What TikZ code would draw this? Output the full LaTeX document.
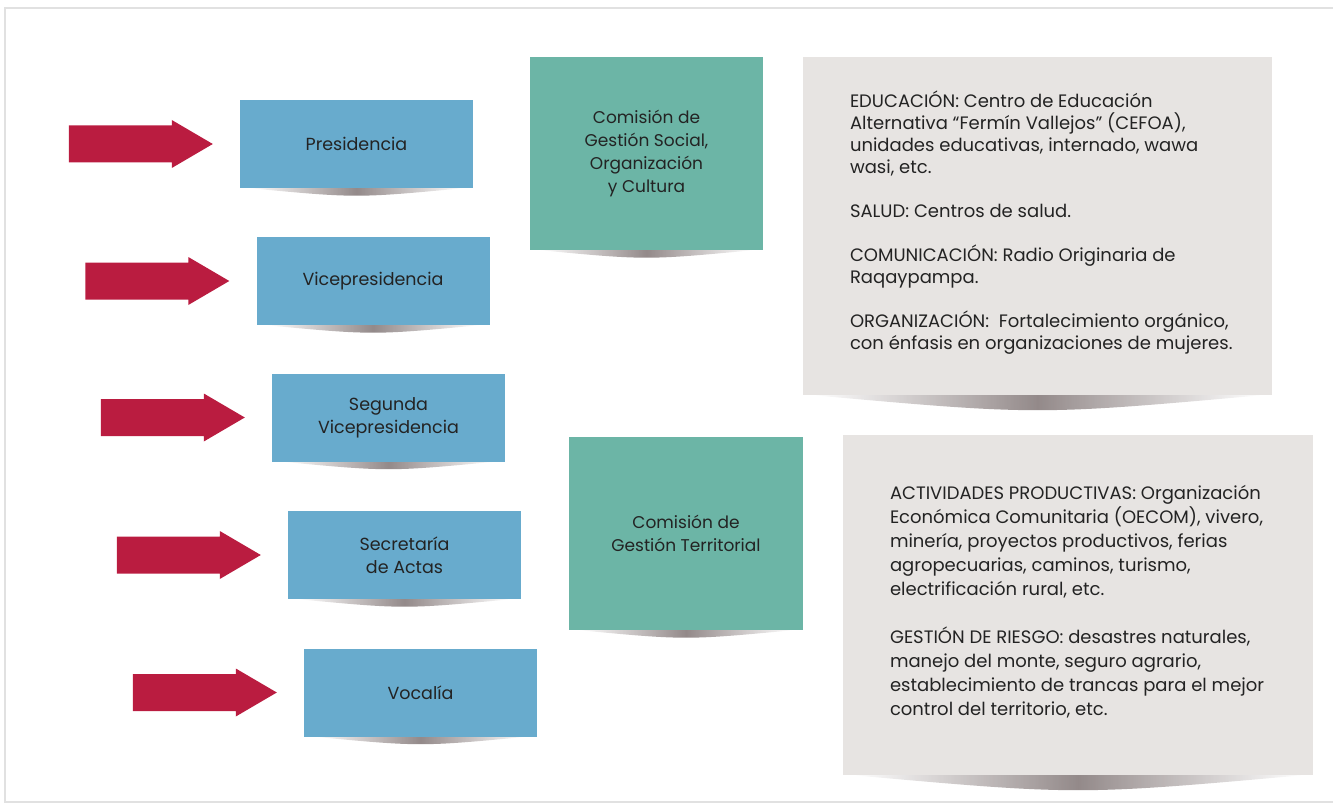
\documentclass[tikz,border=0pt]{standalone}
\usepackage{fontspec}
\setmainfont{Poppins}
\usetikzlibrary{calc,backgrounds}
\definecolor{boxblue}{RGB}{104,171,205}
\definecolor{boxteal}{RGB}{108,181,166}
\definecolor{boxgray}{RGB}{231,228,226}
\definecolor{arrowred}{RGB}{186,28,64}
\definecolor{txt}{RGB}{35,35,35}
\definecolor{shadowc}{RGB}{120,108,108}
\definecolor{framec}{RGB}{225,225,225}
\newcommand\dropshadow[2]{%
  \shade[left color=white, right color=white, middle color=shadowc, opacity=0.8] ($(#1.south west)+(10,0)$) .. controls ($(#1.south)+(0,#2*2)$) .. ($(#1.south east)+(-10,0)$) -- cycle;}
\newcommand\blockarrow[1]{%
  \fill[redarrow] ($(#1.west)+(-27,0)$) -- ++(-41,-24) -- ++(0,5.5) -- ++(-103,0) -- ++(0,37) -- ++(103,0) -- ++(0,5.5) -- cycle;}
\begin{document}
\begin{tikzpicture}[x=1pt,y=-1pt,
  every node/.style={text=txt},
  bluebox/.style={fill=boxblue, minimum width=233pt, minimum height=88pt, align=center, inner sep=0pt, font=\fontsize{17.5}{23}\selectfont},
  tealbox/.style={fill=boxteal, minimum width=233pt, minimum height=193pt, align=center, inner sep=0pt, font=\fontsize{17}{23}\selectfont},
  graybox/.style={fill=boxgray, inner sep=0pt},
  graytext/.style={align=left, inner sep=0pt, anchor=west},
  redarrow/.style={fill=arrowred},
  boxshadow/.style={fill=shadowc}]
\useasboundingbox (0,0) rectangle (1333,805);

% blue boxes
\node[bluebox] (pres) at (356.5,144) {Presidencia};
\node[bluebox] (vice) at (373,281) {Vicepresidencia};
\node[bluebox] (seg) at (388.5,417.5) {Segunda\\Vicepresidencia};
\node[bluebox] (sec) at (404.5,555) {Secretaría\\de Actas};
\node[bluebox] (voc) at (420.5,692.5) {Vocalía};

% teal boxes
\node[tealbox] (com1) at (646.5,153.5) {Comisión de\\Gestión Social,\\Organización\\y Cultura};
\node[tealbox, minimum width=234pt] (com2) at (686,533.5) {Comisión de\\Gestión Territorial};

% gray boxes
\node[graybox, minimum width=469pt, minimum height=338pt] (det1) at (1037.5,226) {};
\node[graybox, minimum width=470pt, minimum height=340pt] (det2) at (1078,605) {};
\node[graytext, font=\fontsize{18}{22}\selectfont] (det1txt) at ($(det1.west)+(47,-3)$) {%
EDUCACIÓN: Centro de Educación\\
Alternativa “Fermín Vallejos” (CEFOA),\\
unidades educativas, internado, wawa\\
wasi, etc.\\[22pt]
SALUD: Centros de salud.\\[22pt]
COMUNICACIÓN: Radio Originaria de\\
Raqaypampa.\\[22pt]
ORGANIZACIÓN:\ \ Fortalecimiento orgánico,\\
con énfasis en organizaciones de mujeres.};
\node[graytext, font=\fontsize{18}{24}\selectfont] (det2txt) at ($(det2.west)+(47,-3)$) {%
ACTIVIDADES PRODUCTIVAS: Organización\\
Económica Comunitaria (OECOM), vivero,\\
minería, proyectos productivos, ferias\\
agropecuarias, caminos, turismo,\\
electrificación rural, etc.\\[24pt]
GESTIÓN DE RIESGO: desastres naturales,\\
manejo del monte, seguro agrario,\\
establecimiento de trancas para el mejor\\
control del territorio, etc.};

% arrows
\blockarrow{pres}
\blockarrow{vice}
\blockarrow{seg}
\blockarrow{sec}
\blockarrow{voc}

\begin{scope}[on background layer]
  \draw[framec, line width=2.5pt] (5,8) rectangle (1345,802);
  \dropshadow{pres}{5}
  \dropshadow{vice}{5}
  \dropshadow{seg}{5}
  \dropshadow{sec}{5}
  \dropshadow{voc}{5}
  \dropshadow{com1}{5}
  \dropshadow{com2}{5}
  \dropshadow{det1}{10}
  \dropshadow{det2}{10}
\end{scope}
\end{tikzpicture}
\end{document}
